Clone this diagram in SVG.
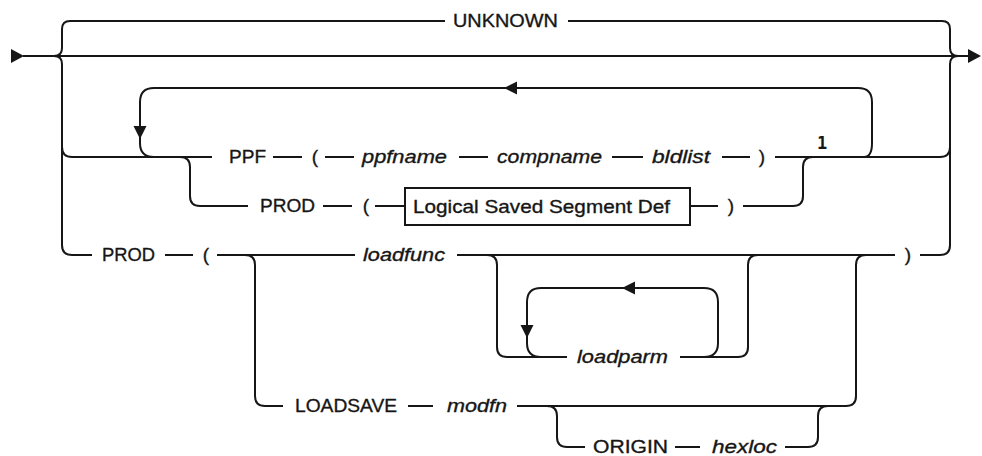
<svg xmlns="http://www.w3.org/2000/svg" width="982" height="456" viewBox="0 0 982 456">
<style>
.t{font-family:"Liberation Sans",Arial,sans-serif;font-size:19px;fill:#161616;stroke:#161616;stroke-width:0.35}
.i{font-style:italic}
.m{text-anchor:middle}
.c{fill:none;stroke:#161616;stroke-width:2}
.a{fill:#161616;stroke:none}
.box{fill:#ffffff;stroke:#161616;stroke-width:2}
.fn{font-family:"DejaVu Sans Mono","Liberation Mono",monospace;font-size:17px;font-weight:bold;fill:#161616;text-anchor:middle}
</style>
<rect width="982" height="456" fill="#ffffff"/>
<g id="connectors">
<path class="c" d="M23,56 H968"/>
<path class="c" d="M54,56 Q62,56 62,48 V29 Q62,21 70,21 H445"/>
<path class="c" d="M568,21 H942 Q950,21 950,29 V48 Q950,56 958,56"/>
<path class="c" d="M54,56 Q62,56 62,64 V245 Q62,255 72,255 H92"/>
<path class="c" d="M62,147 Q62,157 72,157 H212"/>
<path class="c" d="M864,157 Q872,157 872,143 V102 Q872,88 858,88 H154 Q140,88 140,102 V143 Q140,157 154,157"/>
<path class="c" d="M180,157 Q190,157 190,167 V196 Q190,206 200,206 H248"/>
<path class="c" d="M273,157 H302 M325,157 H354 M459,157 H488 M612,157 H643 M722,157 H750"/>
<path class="c" d="M775,157 H940 Q950,157 950,147"/>
<path class="c" d="M920,255 H940 Q950,255 950,245 V64 Q950,56 958,56"/>
<path class="c" d="M743,206 H793 Q803,206 803,196 V167 Q803,157 813,157"/>
<path class="c" d="M323,206 H352 M375,206 H405 M690,206 H718"/>
<path class="c" d="M165,255 H193 M217,255 H355 M457,255 H895"/>
<path class="c" d="M245,255 Q255,255 255,265 V396 Q255,406 265,406 H283"/>
<path class="c" d="M487,255 Q497,255 497,265 V347 Q497,357 507,357 H567"/>
<path class="c" d="M680,357 H738 Q748,357 748,347 V265 Q748,255 758,255"/>
<path class="c" d="M704,357 Q718,357 718,343 V302 Q718,288 704,288 H541 Q527,288 527,302 V343 Q527,357 541,357"/>
<path class="c" d="M846,406 Q856,406 856,396 V265 Q856,255 866,255"/>
<path class="c" d="M408,406 H433 M517,406 H846"/>
<path class="c" d="M547,406 Q557,406 557,416 V437 Q557,447 567,447 H585 M675,447 H700"/>
<path class="c" d="M785,447 H808 Q818,447 818,437 V416 Q818,406 828,406"/>
<polygon class="a" points="11,49 24,56 11,63"/>
<polygon class="a" points="968,49 981,56 968,63"/>
<polygon class="a" points="504,88 517,81.5 517,94.5"/>
<polygon class="a" points="133.5,126 146.5,126 140,139"/>
<polygon class="a" points="622,288 635,281.5 635,294.5"/>
<polygon class="a" points="520.5,325 533.5,325 527,338"/>
</g>
<g id="unknown"><text class="t" x="453" y="27" textLength="105" lengthAdjust="spacingAndGlyphs">UNKNOWN</text></g>
<g id="ppf"><text class="t" x="229" y="163" textLength="37" lengthAdjust="spacingAndGlyphs">PPF</text></g>
<g id="ppf-lparen"><text class="t m" x="315" y="163">(</text></g>
<g id="ppfname"><text class="t i" x="362" y="163" textLength="85" lengthAdjust="spacingAndGlyphs">ppfname</text></g>
<g id="compname"><text class="t i" x="497" y="163" textLength="105" lengthAdjust="spacingAndGlyphs">compname</text></g>
<g id="bldlist"><text class="t i" x="652" y="163" textLength="58" lengthAdjust="spacingAndGlyphs">bldlist</text></g>
<g id="ppf-rparen"><text class="t m" x="762" y="163">)</text></g>
<g id="note1"><text class="fn" x="822" y="149">1</text></g>
<g id="prod1"><text class="t" x="260" y="212" textLength="55" lengthAdjust="spacingAndGlyphs">PROD</text></g>
<g id="prod1-lparen"><text class="t m" x="366" y="212">(</text></g>
<g id="lssd"><rect class="box" x="405" y="188" width="285" height="37"/><text class="t" x="413" y="213" textLength="257" lengthAdjust="spacingAndGlyphs">Logical Saved Segment Def</text></g>
<g id="prod1-rparen"><text class="t m" x="731" y="212">)</text></g>
<g id="prod2"><text class="t" x="102" y="261" textLength="53" lengthAdjust="spacingAndGlyphs">PROD</text></g>
<g id="prod2-lparen"><text class="t m" x="206" y="261">(</text></g>
<g id="loadfunc"><text class="t i" x="363" y="261" textLength="82" lengthAdjust="spacingAndGlyphs">loadfunc</text></g>
<g id="prod2-rparen"><text class="t m" x="908" y="261">)</text></g>
<g id="loadparm"><text class="t i" x="577" y="363" textLength="91" lengthAdjust="spacingAndGlyphs">loadparm</text></g>
<g id="loadsave"><text class="t" x="295" y="412" textLength="102" lengthAdjust="spacingAndGlyphs">LOADSAVE</text></g>
<g id="modfn"><text class="t i" x="447" y="412" textLength="60" lengthAdjust="spacingAndGlyphs">modfn</text></g>
<g id="origin"><text class="t" x="593" y="453" textLength="75" lengthAdjust="spacingAndGlyphs">ORIGIN</text></g>
<g id="hexloc"><text class="t i" x="712" y="453" textLength="65" lengthAdjust="spacingAndGlyphs">hexloc</text></g>
</svg>
